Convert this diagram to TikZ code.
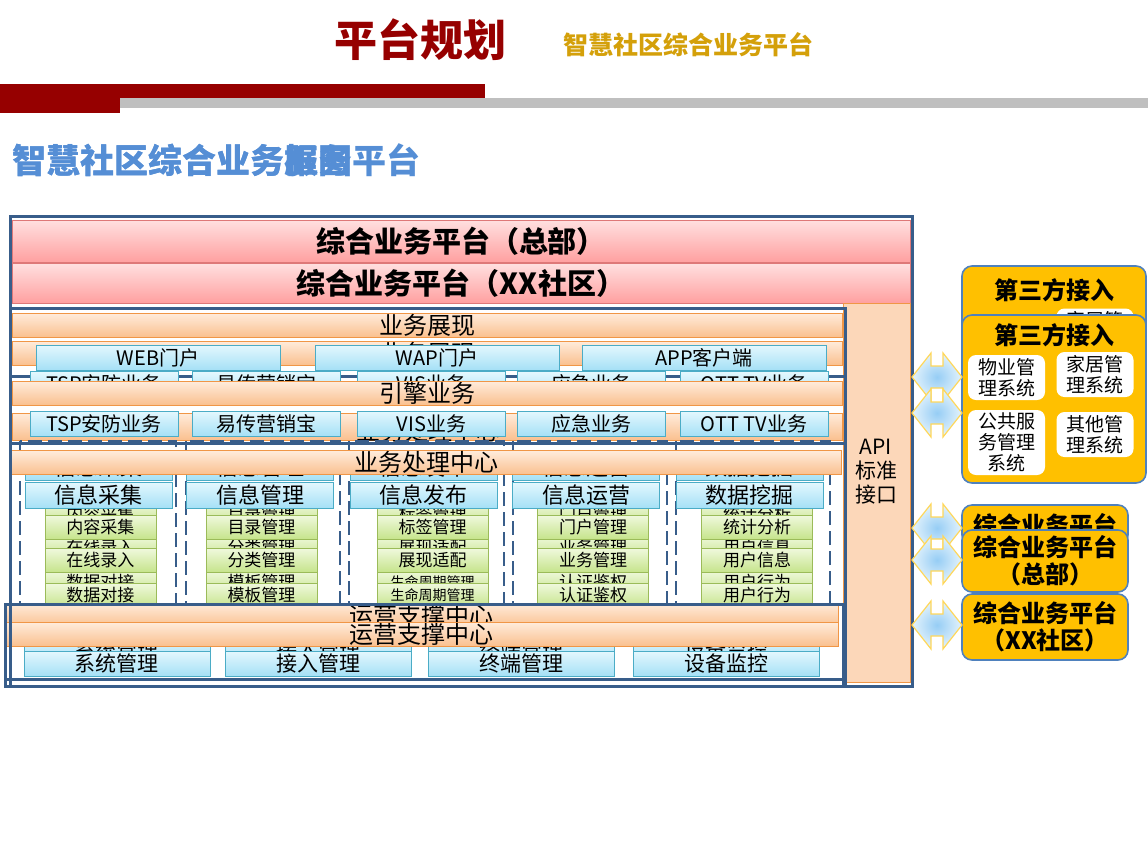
\documentclass[tikz,border=0pt]{standalone}
\usepackage{fontspec}
\setmainfont{Noto Sans CJK SC}

\definecolor{darkred}{RGB}{150,0,0}
\definecolor{gold}{RGB}{212,160,10}
\definecolor{graybar}{RGB}{191,191,191}
\definecolor{headblue}{RGB}{85,142,213}
\definecolor{frameblue}{RGB}{56,93,138}
\definecolor{pinktop}{RGB}{255,224,224}
\definecolor{pinkbot}{RGB}{255,160,160}
\definecolor{pinkline}{RGB}{222,120,120}
\definecolor{orangetop}{RGB}{255,236,220}
\definecolor{orangebot}{RGB}{250,192,143}
\definecolor{orangeline}{RGB}{240,150,70}
\definecolor{bluetop}{RGB}{228,248,254}
\definecolor{bluebot}{RGB}{165,224,246}
\definecolor{blueline}{RGB}{75,172,198}
\definecolor{greentop}{RGB}{240,249,222}
\definecolor{greenbot}{RGB}{198,228,140}
\definecolor{greenline}{RGB}{155,187,89}
\definecolor{apifill}{RGB}{252,215,185}
\definecolor{yellowfill}{RGB}{255,192,0}
\definecolor{yellowline}{RGB}{79,129,189}
\definecolor{arrowin}{RGB}{150,205,245}
\definecolor{arrowout}{RGB}{228,243,252}
\definecolor{arrowline}{RGB}{255,215,90}

\tikzset{
  layerframe/.style={draw=frameblue, line width=1.5pt},
  heading/.style={anchor=west, inner sep=0pt, text=headblue, font=\bfseries\fontsize{17}{18}\selectfont},
  pinkbar/.style={draw=pinkline, top color=pinktop, bottom color=pinkbot, minimum width=449pt, inner sep=0pt, font=\bfseries\fontsize{14.5}{16}\selectfont},
  orangebar/.style={draw=orangeline, top color=orangetop, bottom color=orangebot, minimum width=415pt, minimum height=12pt, inner sep=0pt, font=\fontsize{12}{13}\selectfont},
  bluebox/.style={draw=blueline, top color=bluetop, bottom color=bluebot, minimum height=12.5pt, inner sep=0pt, font=\fontsize{10}{11}\selectfont},
  headbox/.style={bluebox, minimum width=73.5pt, minimum height=13pt, font=\fontsize{11}{12}\selectfont},
  greenbox/.style={draw=greenline, top color=greentop, bottom color=greenbot, minimum width=55.5pt, minimum height=12pt, inner sep=0pt, font=\fontsize{8.5}{9}\selectfont},
  colbox/.style={draw=frameblue, line width=1.2pt, dash pattern=on 7pt off 3pt},
  yellowbox/.style={draw=yellowline, fill=yellowfill, rounded corners=5pt, line width=0.8pt, inner sep=0pt, align=center, font=\bfseries\fontsize{12}{13.5}\selectfont},
  whitebox/.style={fill=white, rounded corners=4pt, minimum width=38.5pt, inner sep=0pt, align=center, font=\fontsize{9.5}{10.5}\selectfont},
  dblarrow/.style={draw=arrowline, line width=0.6pt, inner color=arrowin, outer color=arrowout}
}

\begin{document}
\begin{tikzpicture}[x=0.5pt,y=-0.5pt]
\useasboundingbox (0,0) rectangle (1148,859);

% title
\node[font=\bfseries\fontsize{21.5}{22}\selectfont, text=darkred] (title) at (420,40) {平台规划};
\node[font=\bfseries\fontsize{12.5}{14}\selectfont, text=gold] (subtitle) at (688,45) {智慧社区综合业务平台};
\fill[darkred] (0,84) rectangle (485,99);
\fill[darkred] (0,84) rectangle (120,113);
\fill[graybar] (120,98) rectangle (1148,108);
\node[heading] (head-a) at (12,160) {智慧社区综合业务框图};
\node[heading] (head-b) at (12,160) {智慧社区综合业务服务平台};

% platform bars
\node[pinkbar, minimum height=21pt] (hq) at (461,241) {综合业务平台（总部）};
\node[pinkbar, minimum height=20pt] (xx) at (461,283) {综合业务平台（XX社区）};

% API column
\node[draw=orangeline, fill=apifill, minimum width=33.5pt, minimum height=189.5pt] (api) at (876.5,492.5) {};
\node[align=center, font=\fontsize{10.5}{12}\selectfont] (api-text) at (876,472) {API\\标准\\接口};

\draw[layerframe] (10,376)--(845,376);
\draw[layerframe] (10,443)--(845,443);

% 业务展现
\node[orangebar] (zx-ghost) at (427,353) {业务展现};
\node[orangebar] (zx) at (427,325) {业务展现};
\foreach \cx/\t [count=\i] in {158/WEB门户,437/WAP门户,704/APP客户端}
  \node[bluebox, minimum width=122pt] (zx\i) at (\cx,357.5) {\t};

% 引擎业务
\foreach \cx/\t [count=\i] in {104/TSP安防业务,266/易传营销宝,431.5/VIS业务,591/应急业务,754/OTT TV业务}
  \node[bluebox, minimum width=74pt] (yq-ghost\i) at (\cx,384) {\t};
\node[orangebar] (yq) at (427,393) {引擎业务};
\node[orangebar, minimum height=13.5pt] (yq-ghost) at (427,426.5) {};
\node[font=\fontsize{12}{13}\selectfont] (cl-ghost-text) at (428,431) {业务处理中心};
\foreach \cx/\t [count=\i] in {104/TSP安防业务,266/易传营销宝,431.5/VIS业务,591/应急业务,754/OTT TV业务}
  \node[bluebox, minimum width=74pt] (yq\i) at (\cx,423.5) {\t};

% 业务处理中心
\foreach \xa/\xb in {20/176,186/340,349/504,513/667,676/830}
  \draw[colbox] (\xa,441) rectangle (\xb,616);
\foreach \hx/\hd [count=\i] in {98.5/信息采集,260/信息管理,423.5/信息发布,586/信息运营,749.5/数据挖掘}
  \node[headbox] (hd-ghost\i) at (\hx,467) {\hd};
\node[orangebar] (cl) at (426,462.5) {业务处理中心};
\foreach \hx/\hd/\cx/\ia/\ib/\ic [count=\i] in {
    98.5/信息采集/100.5/内容采集/在线录入/数据对接,
    260/信息管理/261.5/目录管理/分类管理/模板管理,
    423.5/信息发布/432.5/标签管理/展现适配/{\fontsize{7}{8}\selectfont 生命周期管理},
    586/信息运营/593/门户管理/业务管理/认证鉴权,
    749.5/数据挖掘/757/统计分析/用户信息/用户行为}{
  \foreach \t/\cy [count=\j] in {\ia/514,\ib/547,\ic/582}
    \node[greenbox] (gg\i-\j) at (\cx,\cy) {\t};
  \node[headbox] (hd\i) at (\hx,495) {\hd};
  \foreach \t/\cy [count=\j] in {\ia/527,\ib/560,\ic/595}
    \node[greenbox] (g\i-\j) at (\cx,\cy) {\t};
}

% 运营支撑中心
\node[orangebar, minimum width=416.5pt] (yy-ghost) at (421.5,615) {运营支撑中心};
\foreach \cx/\t [count=\i] in {117/系统管理,318/接入管理,521/终端管理,726/设备监控}
  \node[bluebox, minimum width=93pt, font=\fontsize{10.5}{11}\selectfont] (yy-ghost\i) at (\cx,649) {\t};
\node[orangebar, minimum width=416.5pt] (yy) at (421.5,634) {运营支撑中心};
\foreach \cx/\t [count=\i] in {117/系统管理,318/接入管理,521/终端管理,726/设备监控}
  \node[bluebox, minimum width=93pt, font=\fontsize{10.5}{11}\selectfont] (yy\i) at (\cx,663.5) {\t};

\draw[layerframe] (5,604) rectangle (843,686);
\draw[layerframe] (5,679)--(843,679);
\draw[layerframe] (10,308) rectangle (845,686);
\draw[layerframe] (10,216) rectangle (912,686);

% third party
\node[yellowbox, minimum width=92pt, minimum height=102pt] (tp-ghost) at (1054,368) {};
\node[font=\bfseries\fontsize{12}{13}\selectfont] (tp-ghost-title) at (1054,290) {第三方接入};
\node[whitebox, minimum height=22.5pt] (tp-ghost-home) at (1095,331) {家居管\\理系统};
\node[yellowbox, minimum width=92pt, minimum height=84pt] (tp) at (1054,399) {};
\node[font=\bfseries\fontsize{12}{13}\selectfont] (tp-title) at (1054,335) {第三方接入};
\node[whitebox, minimum height=22.5pt] (tp-wy) at (1006.5,377.5) {物业管\\理系统};
\node[whitebox, minimum height=22.5pt] (tp-home) at (1095,374.5) {家居管\\理系统};
\node[whitebox, minimum height=32.5pt] (tp-gg) at (1006.5,442.5) {公共服\\务管理\\系统};
\node[whitebox, minimum height=22.5pt] (tp-qt) at (1095,434.5) {其他管\\理系统};

% platforms right
\node[yellowbox, minimum width=83pt, minimum height=20pt] (pf-ghost) at (1045,525) {综合业务平台};
\node[yellowbox, minimum width=83pt, minimum height=31pt] (pf-hq) at (1045,561) {综合业务平台\\（总部）};
\node[yellowbox, minimum width=83pt, minimum height=33pt] (pf-xx) at (1045,627) {综合业务平台\\（XX社区）};

% double arrows
\foreach \cy in {377,413,528,560,625}
  \draw[dblarrow] (912,\cy) -- (931,\cy-24) -- (931,\cy-11) -- (943,\cy-11) -- (943,\cy-24)
    -- (962,\cy) -- (943,\cy+24) -- (943,\cy+11) -- (931,\cy+11) -- (931,\cy+24) -- cycle;
\end{tikzpicture}
\end{document}
